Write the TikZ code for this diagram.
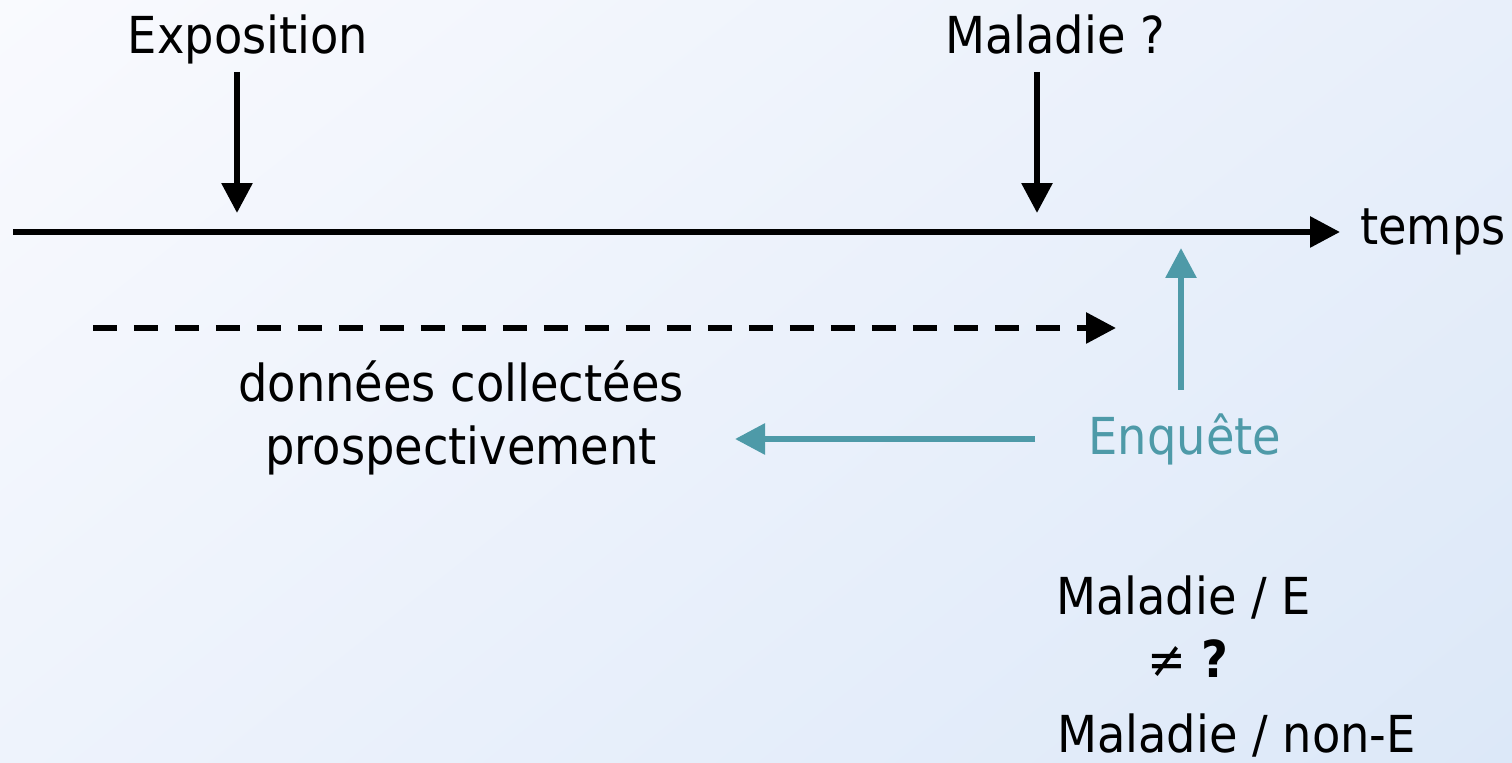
\documentclass[tikz,border=0pt]{standalone}
\usepackage{fontspec}
\setmainfont{DejaVu Sans}[FakeStretch=0.91]
\definecolor{BGTopLeft}{HTML}{F9FAFE}
\definecolor{BGTopRight}{HTML}{E8EFFA}
\definecolor{BGBotLeft}{HTML}{EEF3FC}
\definecolor{BGBotRight}{HTML}{DCE8F8}
\definecolor{EQTeal}{HTML}{4E9AA8}
\usetikzlibrary{arrows.meta,shadings}

\begin{document}
\begin{tikzpicture}[x=0.02cm, y=-0.02cm,
    every node/.style={font=\fontsize{29}{36}\selectfont},
    blackarrow/.style={line width=3.4pt, -{Triangle[length=0.6cm, width=0.6cm]}},
    tealarrow/.style={EQTeal, line width=3.4pt, -{Triangle[length=0.6cm, width=0.6cm]}}]
    \useasboundingbox (0,0) rectangle (1512,763);
    \shade[upper left=BGTopLeft, upper right=BGTopRight, lower left=BGBotLeft, lower right=BGBotRight]
      (0,0) rectangle (1512,763);

    \node[anchor=base] (expo) at (248,54) {Exposition};
    \node[anchor=base] (mal) at (1055,54) {Maladie ?};
    \coordinate (expoTop) at (237,72);
    \coordinate (expoTip) at (237,213);
    \coordinate (malTop) at (1037,72);
    \coordinate (malTip) at (1037,213);
    \draw[blackarrow] (expoTop) -- (expoTip);
    \draw[blackarrow] (malTop) -- (malTip);

    \coordinate (timeStart) at (13,232);
    \coordinate (timeEnd) at (1340,232);
    \draw[blackarrow] (timeStart) -- (timeEnd);
    \node[anchor=base west] (temps) at (1354,245) {temps};

    \coordinate (dataStart) at (93,328);
    \coordinate (dataEnd) at (1116,328);
    \draw[blackarrow, dash pattern=on 0.48cm off 0.34cm] (dataStart) -- (dataEnd);
    \node[align=center] (data) at (461,418) {données collectées\\prospectivement};

    \node[anchor=base, text=EQTeal] (enq) at (1185,455) {Enquête};
    \coordinate (enqTop) at (1181,390);
    \coordinate (enqTip) at (1181,248);
    \coordinate (enqLeft) at (1035,439);
    \coordinate (dataRight) at (735,439);
    \draw[tealarrow] (enqTop) -- (enqTip);
    \draw[tealarrow] (enqLeft) -- (dataRight);

    \node[anchor=base west] (malE) at (1050,614) {Maladie / E};
    \node[anchor=base] (neq) at (1188,677) {≠ \textbf{?}};
    \node[anchor=base west, inner sep=1pt] (malNonE) at (1055,752) {Maladie / non-E};
  \end{tikzpicture}
\end{document}
